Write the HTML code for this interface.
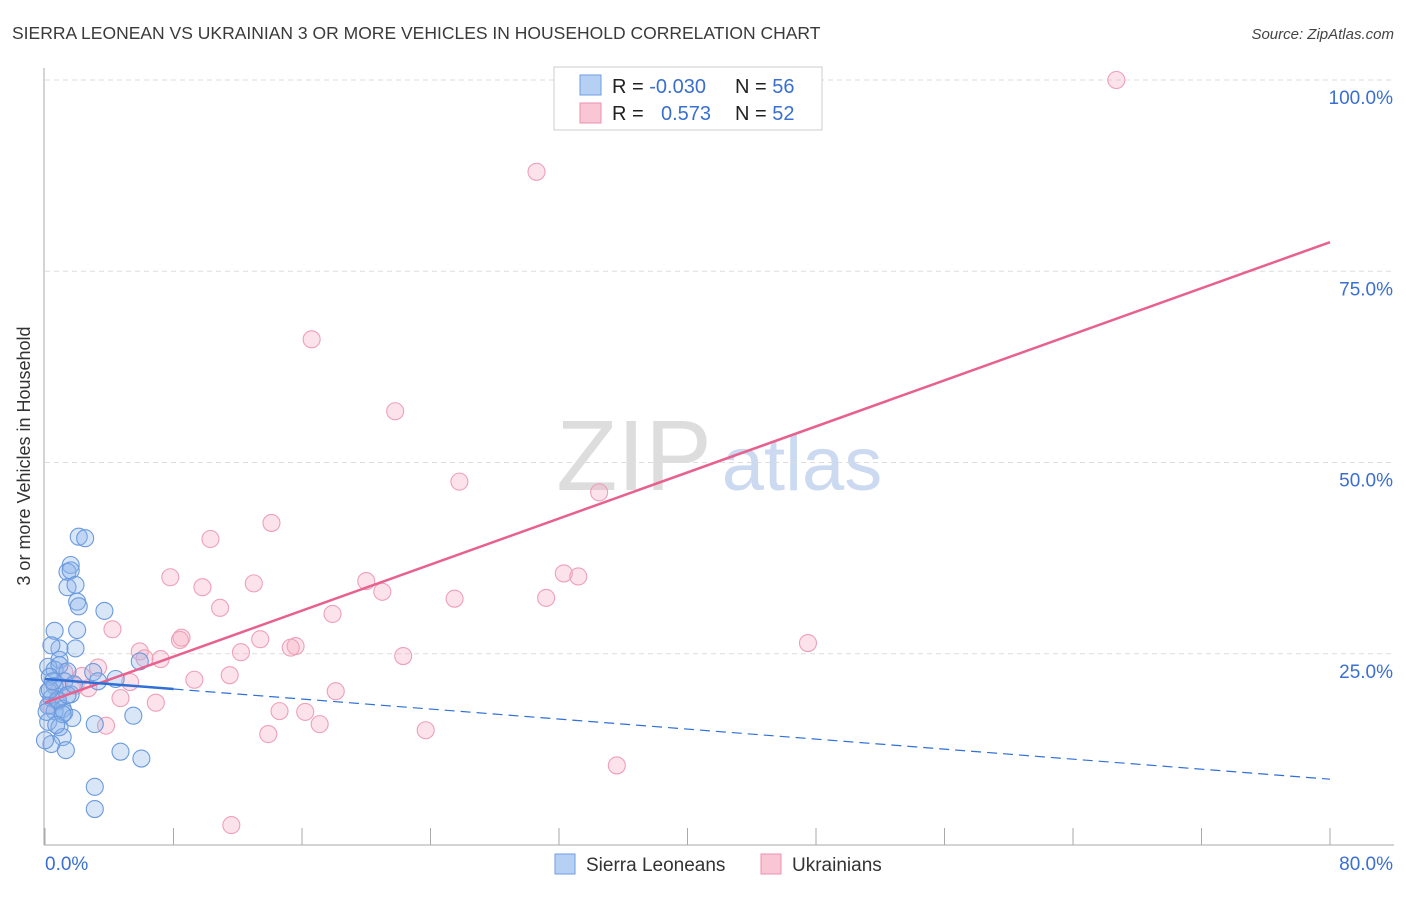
<!DOCTYPE html>
<html><head><meta charset="utf-8"><style>
body{margin:0;background:#fff;font-family:"Liberation Sans",sans-serif;}
svg text{font-family:"Liberation Sans",sans-serif;}
</style></head><body>
<svg id="chart" width="1406" height="892" viewBox="0 0 1406 892">
<text x="12" y="39" font-size="17.5" fill="#3a3a3a">SIERRA LEONEAN VS UKRAINIAN 3 OR MORE VEHICLES IN HOUSEHOLD CORRELATION CHART</text>
<text x="1394" y="39" font-size="15" fill="#444" font-style="italic" text-anchor="end">Source: ZipAtlas.com</text>
<text x="30" y="456" font-size="18" fill="#333" text-anchor="middle" transform="rotate(-90 30 456)">3 or more Vehicles in Household</text>
<g><text x="634" y="490" font-size="100" fill="#ddd" font-family="Liberation Serif" text-anchor="middle">ZIP</text><text x="802" y="490" font-size="76" fill="#cbdaf0" text-anchor="middle">atlas</text></g>
<g id="grid"></g><g id="axes"></g><g id="pts"></g><g id="lines"></g>
<g>
<rect x="554" y="67" width="268" height="63" fill="#fff" stroke="#ccc"/>
<rect x="580" y="75" width="21" height="20" fill="#b6d0f3" stroke="#6e9ee0"/>
<rect x="580" y="103" width="21" height="20" fill="#f9c6d5" stroke="#ec92ad"/>
<text x="612" y="93" font-size="20" fill="#222">R = <tspan fill="#3a6fd1">-0.030</tspan></text>
<text x="735" y="93" font-size="20" fill="#222">N = <tspan fill="#3a6fd1">56</tspan></text>
<text x="612" y="120" font-size="20" fill="#222">R = <tspan fill="#3a6fd1" x="661">0.573</tspan></text>
<text x="735" y="120" font-size="20" fill="#222">N = <tspan fill="#3a6fd1">52</tspan></text>
</g>
<g>
<rect x="555" y="854" width="20" height="20" fill="#b6d0f3" stroke="#6e9ee0"/>
<text x="586" y="871" font-size="19" fill="#333">Sierra Leoneans</text>
<rect x="761" y="854" width="20" height="20" fill="#f9c6d5" stroke="#ec92ad"/>
<text x="792" y="871" font-size="19" fill="#333">Ukrainians</text>
</g>
</svg>
<script>
const yTicks=[25,50,75,100];
const xTickLabels=["0.0%","80.0%"];
const blueX=[2.1,2.5,1.6,1.4,1.6,1.4,1.9,2.0,2.1,3.7,0.6,2.0,0.9,1.9,0.4,0.9,0.2,0.6,0.9,3.0,5.9,3.3,4.4,0.3,1.4,1.2,0.6,0.2,1.6,0.4,0.8,0.2,1.1,0.6,1.2,1.7,0.2,0.9,1.1,0.4,1.3,3.1,5.5,4.7,6.0,3.1,3.1,0.8,0.3,1.1,0.1,0.7,0.0,0.5,1.4,1.8];
const blueY=[40.3,40.1,36.6,35.7,35.9,33.7,34.0,31.8,31.2,30.6,28.0,28.1,25.7,25.7,26.1,24.2,23.3,22.9,23.5,22.6,24.0,21.4,21.7,22.0,22.7,21.4,20.8,20.1,19.7,19.2,18.8,18.2,17.8,17.5,17.3,16.6,16.1,15.4,14.1,13.2,12.4,15.8,16.9,12.2,11.3,7.6,4.7,19.0,20.3,17.1,17.4,15.7,13.7,21.4,19.6,21.0];
const pinkX=[66.7,30.6,16.6,21.8,25.8,34.5,14.1,10.3,7.8,9.8,13.0,20.0,21.0,32.3,33.2,25.5,31.2,10.9,17.9,4.2,8.5,8.4,5.9,6.2,7.2,13.4,15.6,15.3,12.2,22.3,47.5,3.3,2.3,5.3,1.9,9.3,11.5,18.1,4.7,6.9,14.6,16.2,17.1,3.8,13.9,23.7,35.6,11.6,2.7,1.2,0.3,0.9];
const pinkY=[100,88,66.1,56.7,47.5,46.1,42.1,40.0,35.0,33.7,34.2,34.5,33.1,35.5,35.1,32.2,32.3,31.0,30.2,28.2,27.1,26.8,25.3,24.4,24.3,26.9,26.0,25.8,25.2,24.7,26.4,23.2,22.1,21.3,20.8,21.6,22.2,20.1,19.2,18.6,17.5,17.4,15.8,15.6,14.5,15.0,10.4,2.6,20.5,22.6,18.3,20.4];
const pinkTrend=[18.6,78.8];
const blueTrend=[21.7,8.6];
const NS="http://www.w3.org/2000/svg";
const X0=45,X1=1330,Y0=845,Y100=80;
const sx=v=>X0+(v/80)*(X1-X0);
const sy=v=>Y0-(v/100)*(Y0-Y100);
function mk(tag,attrs,parent){const e=document.createElementNS(NS,tag);for(const k in attrs)e.setAttribute(k,attrs[k]);document.getElementById(parent).appendChild(e);return e;}
yTicks.forEach(t=>{
 const l=mk('line',{x1:45,x2:1394,y1:sy(t),y2:sy(t),stroke:'#ddd','stroke-dasharray':'5,4'},'grid');
 
 
 const tx=mk('text',{x:1393,y:sy(t)+24,'font-size':19,fill:'#3a6fd1','text-anchor':'end'},'grid');
 tx.textContent=t.toFixed(1)+'%';
 
 
});
let a=mk('line',{x1:44,x2:44,y1:68,y2:845,stroke:'#aaa'},'axes');


a=mk('line',{x1:44,x2:1394,y1:845,y2:845,stroke:'#aaa'},'axes');


for(let i=0;i<=10;i++){const t=mk('line',{x1:sx(i*8),x2:sx(i*8),y1:828,y2:845,stroke:'#aaa'},'axes');
 
 }
let xl=mk('text',{x:45,y:870,'font-size':19,fill:'#3a6fd1'},'axes');xl.textContent=xTickLabels[0];


xl=mk('text',{x:1393,y:870,'font-size':19,fill:'#3a6fd1','text-anchor':'end'},'axes');xl.textContent=xTickLabels[1];


pinkX.forEach((v,i)=>{const c=mk('circle',{cx:sx(v),cy:sy(pinkY[i]),r:8.5,fill:'rgba(246,170,195,0.33)',stroke:'#eea0b8','stroke-width':1.1},'pts');
 
 });
blueX.forEach((v,i)=>{const c=mk('circle',{cx:sx(v),cy:sy(blueY[i]),r:8.5,fill:'rgba(140,180,235,0.33)',stroke:'#6a9ade','stroke-width':1.1},'pts');
 
 });
let ln=mk('line',{x1:sx(0),y1:sy(pinkTrend[0]),x2:sx(80),y2:sy(pinkTrend[1]),stroke:'#e8608e','stroke-width':2.5},'lines');


const bAt=x=>blueTrend[0]+(blueTrend[1]-blueTrend[0])*x/80;
ln=mk('line',{x1:sx(0),y1:sy(bAt(0)),x2:sx(8),y2:sy(bAt(8)),stroke:'#2f6fd6','stroke-width':2.5},'lines');


ln=mk('line',{x1:sx(8),y1:sy(bAt(8)),x2:sx(80),y2:sy(bAt(80)),stroke:'#2f6fd6','stroke-width':1.2,'stroke-dasharray':'10,6'},'lines');


</script>
</body></html>
